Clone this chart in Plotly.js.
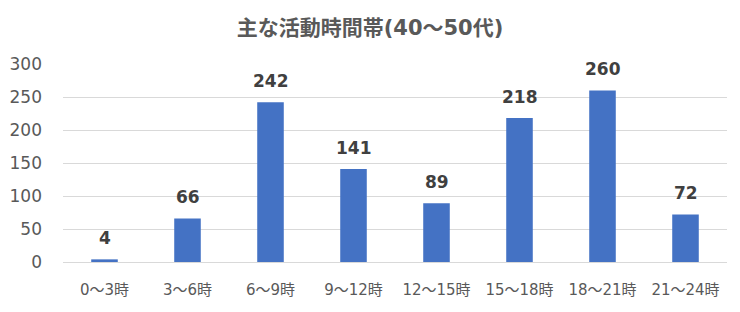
<!DOCTYPE html>
<html><head><meta charset="utf-8">
<script src="https://cdn.plot.ly/plotly-3.0.1.min.js"></script>
<style>body{margin:0;background:#fff}#c{width:740px;height:312px}</style>
</head><body><div id="c"></div>
<script>
const categories = ["0～3時","3～6時","6～9時","9～12時","12～15時","15～18時","18～21時","21～24時"];
const values = [4,66,242,141,89,218,260,72];
const titleText = "主な活動時間帯(40～50代)";
const yTicks = [0,50,100,150,200,250,300];
const F = '"DejaVu Sans", "Noto Sans CJK JP", sans-serif';
const labels = categories.map((c,i)=>({
  x:c, y:values[i], text:'<b>'+values[i]+'</b>', showarrow:false,
  xanchor:'center', yanchor:'bottom', yshift:9,
  font:{family:F, size:17, color:'#404040'}
}));
Plotly.newPlot('c', [{
  type:'bar', x:categories, y:values,
  marker:{color:'#4472C4'}, width:0.32
}], {
  width:740, height:312,
  margin:{l:63, r:13, t:64, b:50},
  paper_bgcolor:'#fff', plot_bgcolor:'#fff',
  title:{text:'<b>'+titleText+'</b>', x:0.5, xanchor:'center', y:0.91, yanchor:'middle',
    font:{family:F, size:21, color:'#595959'}},
  xaxis:{tickfont:{family:F, size:15, color:'#595959'}, showline:false, ticks:'', showgrid:false, ticklabelstandoff:17},
  yaxis:{range:[0,300], tickvals:yTicks, gridcolor:'#d9d9d9', zeroline:true, zerolinecolor:'#d9d9d9',
    tickfont:{family:F, size:17, color:'#595959'}, ticks:'', showline:false, ticklabelstandoff:20},
  annotations:labels,
  showlegend:false
}, {displayModeBar:false, staticPlot:true});
</script></body></html>
